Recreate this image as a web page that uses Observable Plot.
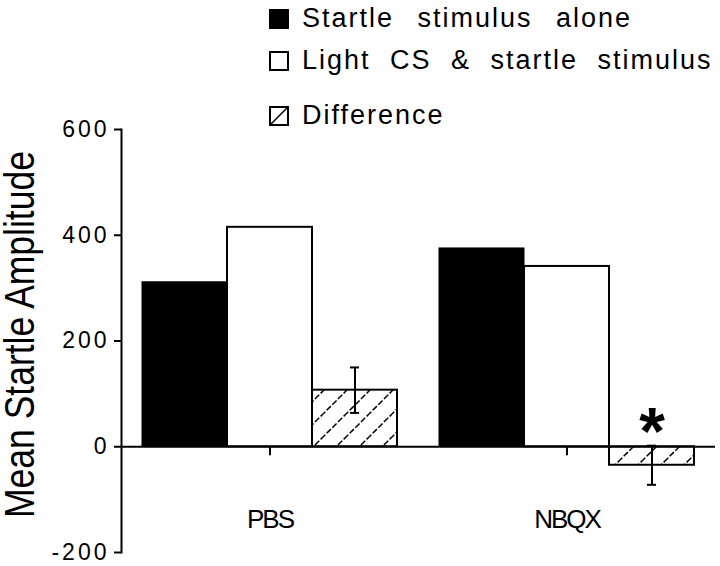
<!DOCTYPE html>
<html>
<head>
<meta charset="utf-8">
<script src="https://cdn.jsdelivr.net/npm/d3@7"></script>
<script src="https://cdn.jsdelivr.net/npm/@observablehq/plot@0.6"></script>
<style>
body { margin: 0; background: #fff; }
#wrap { position: relative; width: 720px; height: 566px; font-family: "Liberation Sans", Arial, sans-serif; }
#legend { position: absolute; left: 269px; top: 0; }
.row { position: absolute; left: 0; display: flex; align-items: center; height: 27px; font-size: 27px; line-height: 27px; letter-spacing: 2px; word-spacing: 10px; white-space: nowrap; color: #000; }
.row.first { word-spacing: 14px; }
.sw { width: 20px; height: 20px; box-sizing: border-box; border: 2px solid #000; margin-right: 13px; flex: none; background: #fff; }
.sw svg { display: block; }
#chart svg g[aria-label="y-axis tick label"] text { letter-spacing: 3px; }
#chart svg g.grp text { letter-spacing: -2px; }
</style>
</head>
<body>
<div id="wrap"><div id="chart"></div><div id="legend"></div></div>
<script>
const groups = ["PBS", "NBQX"];
const series = ["Startle stimulus alone", "Light CS & startle stimulus", "Difference"];
const aloneValues = [311, 375];
const lightValues = [415, 341];
const diffValues = [107, -35];
const diffErrors = [43, 37];
const significance = ["", "*"];
const yTicks = [-200, 0, 200, 400, 600];
const yTickLabels = ["-200", "0", "200", "400", "600"];
const yTitle = "Mean Startle Amplitude";

const rows = groups.flatMap((g, i) => [
  {group: g, series: series[0], value: aloneValues[i]},
  {group: g, series: series[1], value: lightValues[i]},
  {group: g, series: series[2], value: diffValues[i], err: diffErrors[i], sig: significance[i]}
]);
const aloneRows = rows.filter(d => d.series === series[0]);
const lightRows = rows.filter(d => d.series === series[1]);
const diffRows = rows.filter(d => d.series === series[2]);

const plot = Plot.plot({
  width: 720,
  height: 566,
  marginTop: 129,
  marginBottom: 14,
  marginLeft: 120,
  marginRight: 5,
  style: {fontFamily: "'Liberation Sans', Arial, sans-serif", color: "#000", background: "#fff", overflow: "visible"},
  fx: {domain: groups, padding: 0, axis: null, label: null},
  x: {domain: series, paddingInner: 0, paddingOuter: 0.244, axis: null},
  y: {domain: [-200, 600], axis: null, label: null},
  marks: [
    Plot.barY(aloneRows, {fx: "group", x: "series", y: "value", fill: "#000", stroke: "#000", strokeWidth: 1}),
    Plot.barY(lightRows, {fx: "group", x: "series", y: "value", fill: "#fff", stroke: "#000", strokeWidth: 2}),
    Plot.barY(diffRows, {fx: "group", x: "series", y: "value", fill: "url(#hatch)", stroke: "#000", strokeWidth: 2}),
    Plot.ruleY([0], {stroke: "#000", strokeWidth: 2}),
    Plot.ruleX(diffRows, {fx: "group", x: "series", y1: d => d.value - d.err, y2: d => d.value + d.err, stroke: "#000", strokeWidth: 2}),
    Plot.tickY(diffRows, {fx: "group", x: "series", y: d => d.value + d.err, stroke: "#000", strokeWidth: 2, insetLeft: 38, insetRight: 38}),
    Plot.tickY(diffRows, {fx: "group", x: "series", y: d => d.value - d.err, stroke: "#000", strokeWidth: 2, insetLeft: 38, insetRight: 38}),
    Plot.text(diffRows, {fx: "group", x: "series", y: d => d.value + d.err, text: "sig", fontSize: 66, fontWeight: "bold", lineAnchor: "bottom", dy: 8, fill: "#000"}),
    Plot.ruleX(groups, {fx: d => d, x: () => series[1], y1: () => 0, y2: () => 0, insetBottom: -9, stroke: "#000", strokeWidth: 2}),
    Plot.text(groups, {fx: d => d, text: d => d, frameAnchor: "bottom", lineAnchor: "bottom", dy: -25, fontSize: 26, fill: "#000", className: "grp"}),
    Plot.frame({anchor: "left", facetAnchor: "left", stroke: "#000", strokeWidth: 2}),
    Plot.axisY({ticks: yTicks, tickFormat: d => yTickLabels[yTicks.indexOf(d)], tickSize: 7, tickPadding: 5, fontSize: 23, stroke: "#000", strokeWidth: 2, fill: "#000", label: null}),
    Plot.text([yTitle], {frameAnchor: "left", facetAnchor: "left", textAnchor: "middle", rotate: -90, dx: -101, dy: -6.5, fontSize: 42, fill: "#000", className: "ytitle"})
  ]
});

// hatch pattern for the Difference bars
const defs = d3.select(plot).insert("defs", ":first-child");
const pat = defs.append("pattern").attr("id", "hatch").attr("patternUnits", "userSpaceOnUse").attr("width", 23).attr("height", 23);
pat.append("rect").attr("width", 23).attr("height", 23).attr("fill", "#fff");
pat.append("path").attr("d", "M-2,25L25,-2M-6,6L6,-6M17,29L29,17").attr("stroke", "#000").attr("stroke-width", 1.5).attr("stroke-dasharray", "6 2");

// condense the axis title (the reference uses a narrow typeface)
d3.select(plot).selectAll("g.ytitle text").attr("transform", function() {
  return (this.getAttribute("transform") || "") + " scale(0.845,1)";
});

document.getElementById("chart").appendChild(plot);

// legend
const legendTops = [5, 47, 102];
const legend = d3.select("#legend");
series.forEach((s, i) => {
  const row = legend.append("div").attr("class", i === 0 ? "row first" : "row").style("top", legendTops[i] + "px");
  const sw = row.append("div").attr("class", "sw");
  if (i === 0) sw.style("background", "#000");
  if (i === 2) {
    const svg = sw.append("svg").attr("width", 16).attr("height", 16);
    svg.append("line").attr("x1", 0).attr("y1", 16).attr("x2", 16).attr("y2", 0).attr("stroke", "#000").attr("stroke-width", 1.5);
  }
  row.append("span").text(s);
});
</script>
</body>
</html>
